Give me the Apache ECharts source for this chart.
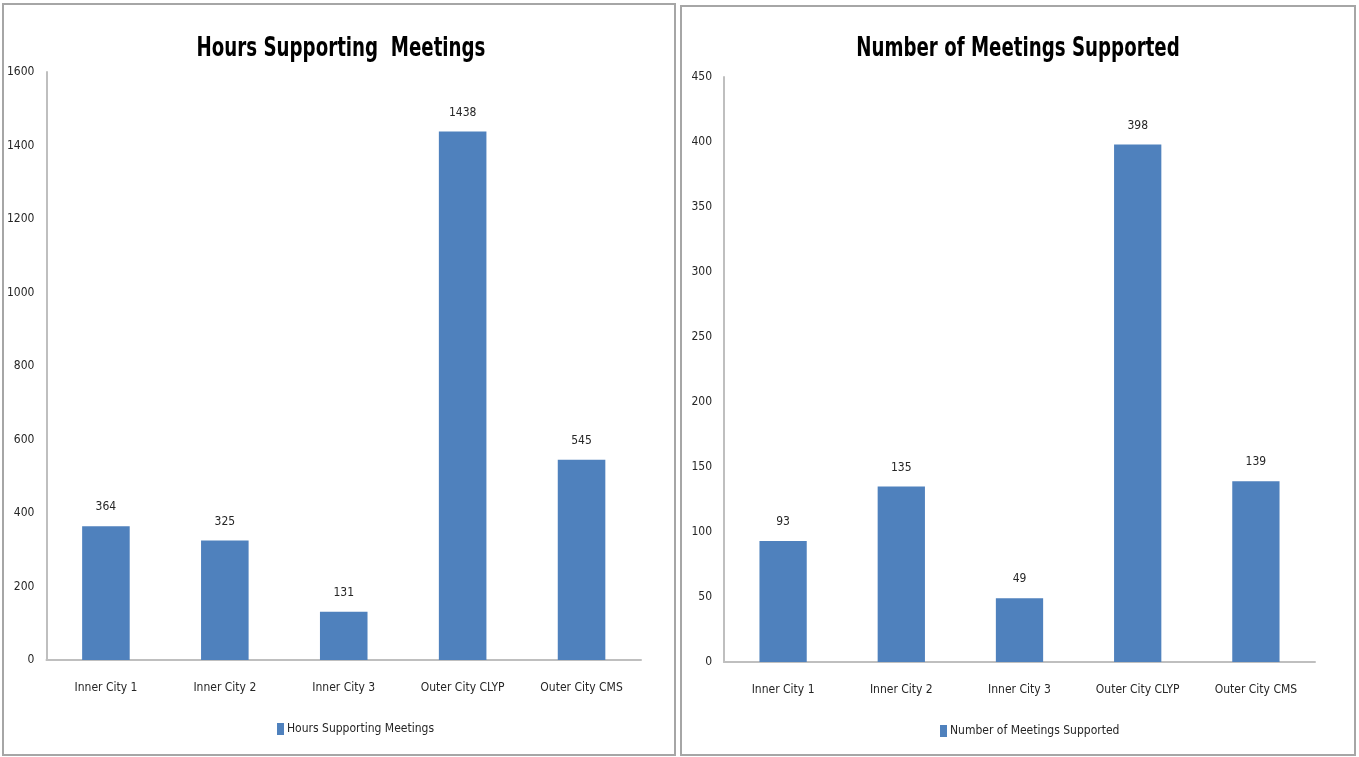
<!DOCTYPE html>
<html>
<head>
<meta charset="utf-8">
<script src="https://cdn.jsdelivr.net/npm/echarts@6/dist/echarts.min.js"></script>
<style>
  html, body { margin: 0; padding: 0; background: #ffffff; width: 1359px; height: 757px; overflow: hidden; }
  .panel { position: absolute; box-sizing: border-box; border: 2px solid #a6a6a6; background: #ffffff; }
  #hours { left: 2px; top: 3px; width: 674px; height: 753px; }
  #meetings { left: 680px; top: 5px; width: 676px; height: 751px; }
</style>
</head>
<body>
<div id="hours" class="panel"></div>
<div id="meetings" class="panel"></div>
<script>
const categories = ['Inner City 1', 'Inner City 2', 'Inner City 3', 'Outer City CLYP', 'Outer City CMS'];
const hoursValues = [364, 325, 131, 1438, 545];
const meetingsValues = [93, 135, 49, 398, 139];
const hoursTicks = { min: 0, max: 1600, interval: 200 };
const meetingsTicks = { min: 0, max: 450, interval: 50 };

const FONT = "'DejaVu Sans Condensed', 'Liberation Sans', sans-serif";
const BAR = '#4f81bd';
const AXIS = '#bfbfbf';
const TEXT = '#262626';

function buildOption(cfg) {
  return {
    animation: false,
    textStyle: { fontFamily: FONT },
    // condensed bold heading, squeezed horizontally around its centre
    graphic: [{
      type: 'text',
      x: cfg.titleX,
      y: cfg.titleY,
      scaleX: 0.75,
      silent: true,
      style: {
        text: cfg.title,
        x: 0,
        y: 0,
        align: 'center',
        verticalAlign: 'middle',
        font: "bold 27px 'DejaVu Sans Condensed', sans-serif",
        fill: '#000000'
      }
    }],
    legend: {
      data: [cfg.name],
      left: cfg.legendLeft,
      top: cfg.legendTop,
      itemWidth: 7,
      itemHeight: 12,
      itemGap: 4,
      icon: 'rect',
      textStyle: { fontFamily: FONT, fontSize: 12, color: TEXT, padding: [0, 0, 0, -2] }
    },
    grid: { left: cfg.grid.left, top: cfg.grid.top, width: cfg.grid.width, height: cfg.grid.height },
    xAxis: {
      type: 'category',
      data: categories,
      axisLine: { lineStyle: { color: AXIS, width: 2 } },
      axisTick: { show: false },
      axisLabel: { interval: 0, margin: 22, fontFamily: FONT, fontSize: 12, color: TEXT }
    },
    yAxis: {
      type: 'value',
      min: cfg.ticks.min,
      max: cfg.ticks.max,
      interval: cfg.ticks.interval,
      axisLine: { show: true, lineStyle: { color: AXIS, width: 2 } },
      axisTick: { show: false },
      splitLine: { show: false },
      axisLabel: { margin: 12, fontFamily: FONT, fontSize: 12, color: TEXT, formatter: v => String(v) }
    },
    series: [{
      name: cfg.name,
      type: 'bar',
      data: cfg.values,
      barWidth: '40%',
      itemStyle: { color: BAR },
      label: {
        show: true,
        position: 'top',
        distance: 13,
        fontFamily: FONT,
        fontSize: 12,
        color: TEXT
      }
    }]
  };
}

const hoursChart = echarts.init(document.getElementById('hours'));
hoursChart.setOption(buildOption({
  title: 'Hours Supporting  Meetings',
  name: 'Hours Supporting Meetings',
  values: hoursValues,
  ticks: hoursTicks,
  titleX: 337,
  titleY: 44,
  legendLeft: 268,
  legendTop: 713,
  grid: { left: 42, top: 67, width: 595, height: 588 }
}));

const meetingsChart = echarts.init(document.getElementById('meetings'));
meetingsChart.setOption(buildOption({
  title: 'Number of Meetings Supported',
  name: 'Number of Meetings Supported',
  values: meetingsValues,
  ticks: meetingsTicks,
  titleX: 336,
  titleY: 42,
  legendLeft: 253,
  legendTop: 713,
  grid: { left: 42, top: 70, width: 591, height: 585 }
}));
</script>
</body>
</html>
